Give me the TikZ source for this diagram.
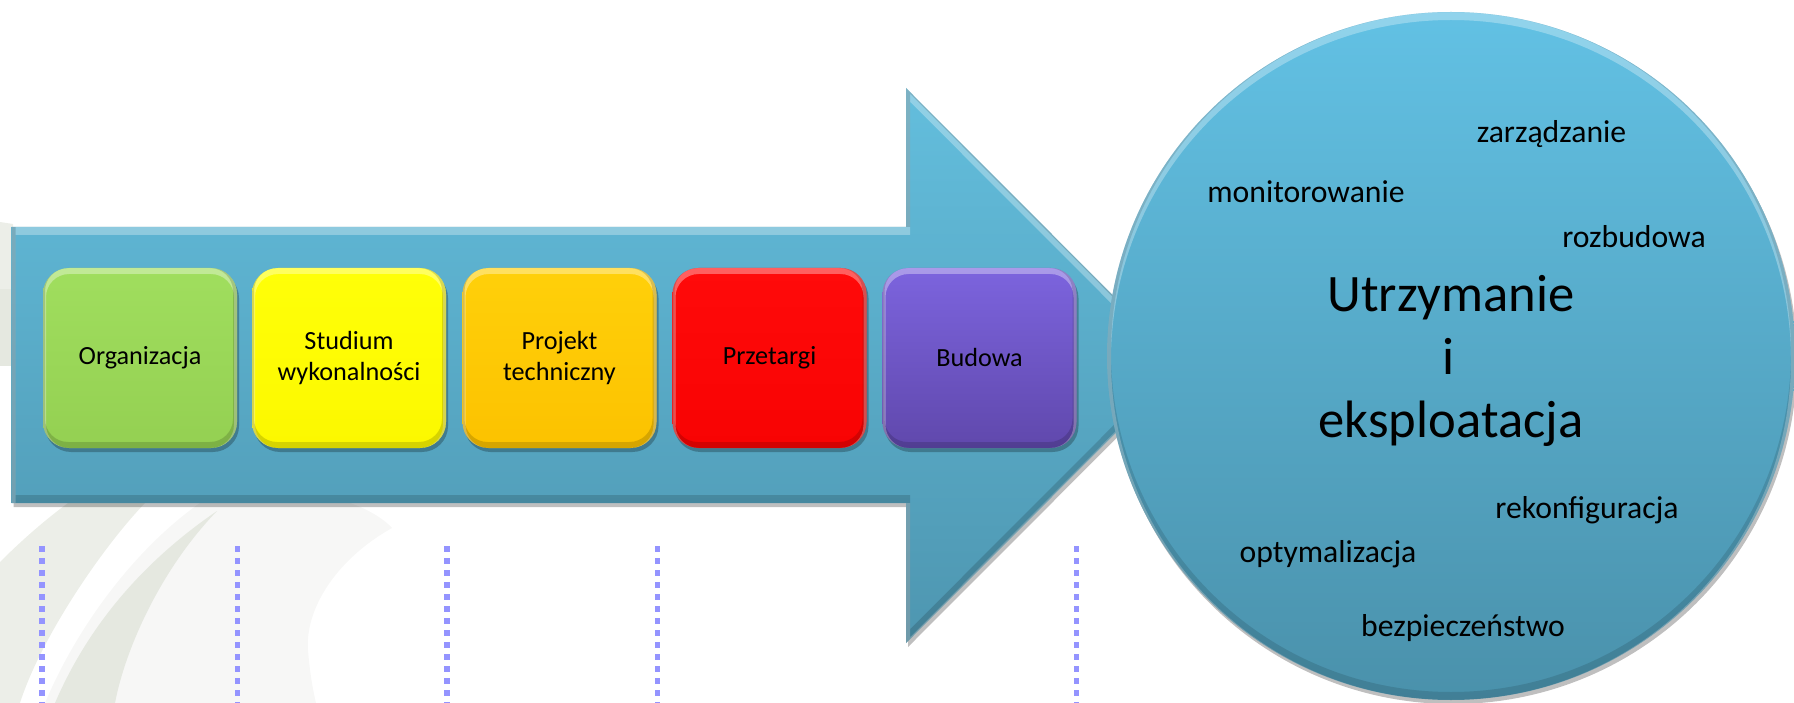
\documentclass[tikz,border=0pt]{standalone}
\usepackage{fontspec}
\setmainfont{Carlito}
\usetikzlibrary{shadows}
\definecolor{arrtop}{RGB}{99,190,221}
\definecolor{arrbot}{RGB}{78,150,176}
\definecolor{circtop}{RGB}{98,193,228}
\definecolor{circbot}{RGB}{74,145,171}
\definecolor{grntop}{RGB}{160,222,94}
\definecolor{grnbot}{RGB}{148,208,82}
\definecolor{yeltop}{RGB}{255,255,8}
\definecolor{yelbot}{RGB}{252,248,0}
\definecolor{orgtop}{RGB}{255,208,10}
\definecolor{orgbot}{RGB}{252,194,0}
\definecolor{redtop}{RGB}{255,10,10}
\definecolor{redbot}{RGB}{248,3,3}
\definecolor{purtop}{RGB}{124,100,222}
\definecolor{purbot}{RGB}{96,72,172}
\definecolor{dotcol}{RGB}{148,148,255}
\definecolor{swA}{RGB}{236,238,232}
\definecolor{swB}{RGB}{229,232,224}
\definecolor{swC}{RGB}{247,247,246}
\newcommand\phasefont{\fontsize{26.2pt}{31.5pt}\selectfont}
\newcommand\smallfont{\fontsize{31.7pt}{38pt}\selectfont}
\newcommand\bigfont{\fontsize{52.6pt}{63pt}\selectfont}
\def\arrowpath{(11.5,227) -- (906,227) -- (906,88) -- (1183,365.5) -- (906,643) -- (906,503) -- (11.5,503) -- cycle}
\tikzset{
  softshadow/.style={drop shadow={shadow xshift=2pt, shadow yshift=-4pt, opacity=0.25, fill=black}},
  phase/.style 2 args={rounded corners=26pt, minimum width=194pt, minimum height=180pt,
    inner sep=0pt, align=center, font=\phasefont, top color=#1, bottom color=#2, softshadow,
    path picture={
      \draw[white, opacity=0.35, line width=6pt, rounded corners=26pt]
        ([yshift=-3pt]path picture bounding box.north west) rectangle ([yshift=-3pt]path picture bounding box.south east);
      \draw[black, opacity=0.15, line width=6pt, rounded corners=26pt]
        ([yshift=3pt,xshift=-1pt]path picture bounding box.north west) rectangle ([yshift=3pt,xshift=-1pt]path picture bounding box.south east);
    }},
  lbl/.style={font=\smallfont, anchor=base, inner sep=0pt},
  biglbl/.style={font=\bigfont, anchor=base, inner sep=0pt},
  dotline/.style={dotcol, line width=5.5pt, dash pattern=on 5.5pt off 6.5pt},
}
\begin{document}
\begin{tikzpicture}[x=1pt,y=-1pt]
\useasboundingbox (0,0) rectangle (1794,703);
% background swooshes
\fill[swA] (0,222) -- (13,224) -- (13,290) -- (0,290) -- cycle;
\fill[swB] (0,289) -- (13,289) -- (13,366) -- (0,366) -- cycle;
\fill[swA] (0,562) .. controls (22,540) and (45,520) .. (68,503) -- (145,503)
  .. controls (100,550) and (40,640) .. (20,703) -- (0,703) -- cycle;
\fill[swC] (45,703) .. controls (80,620) and (140,545) .. (200,503) -- (350,503)
  .. controls (370,510) and (385,520) .. (392,528)
  .. controls (335,560) and (305,610) .. (308,650)
  .. controls (310,675) and (313,690) .. (316,703) -- cycle;
\fill[swB] (217,511) .. controls (160,550) and (95,610) .. (55,703) -- (115,703)
  .. controls (125,650) and (160,570) .. (217,511) -- cycle;
% dotted guide lines
\foreach \i/\x in {1/42,2/237.5,3/447,4/657.5,5/1076.5}{
  \coordinate (dt\i) at (\x,546);
  \coordinate (db\i) at (\x,706);
  \draw[dotline] (dt\i) -- (db\i);
}
% big arrow
\path[top color=arrtop, bottom color=arrbot, softshadow] \arrowpath;
\begin{scope}
  \clip \arrowpath;
  \draw[white, opacity=0.3, line width=8pt, yshift=-4pt] \arrowpath;
  \draw[black, opacity=0.15, line width=8pt, yshift=4pt] \arrowpath;
\end{scope}
% phases
\node[phase={grntop}{grnbot}] (org) at (140,358) {Organizacja};
\node[phase={yeltop}{yelbot}] (stu) at (349,358) {Studium\\wykonalności};
\node[phase={orgtop}{orgbot}] (pro) at (559.5,358) {Projekt\\techniczny};
\node[phase={redtop}{redbot}] (prz) at (769.5,358) {Przetargi};
\node[phase={purtop}{purbot}] (bud) at (979.5,358) {Budowa};
% circle
\node[circle, minimum size=688pt, inner sep=0pt, top color=circtop, bottom color=circbot, softshadow,
  path picture={
    \draw[white, opacity=0.3, line width=8pt] ([yshift=-4pt]path picture bounding box.center) circle (344pt);
    \draw[black, opacity=0.12, line width=8pt] ([yshift=4pt]path picture bounding box.center) circle (344pt);
  }] (circ) at (1451,356) {};
\node[biglbl] (u1) at (1451,311.5) {Utrzymanie};
\node[biglbl] (u2) at (1449,374.5) {i};
\node[biglbl] (u3) at (1451,437) {eksploatacja};
\node[lbl] (t1) at (1551.5,143) {zarządzanie};
\node[lbl] (t2) at (1306,203) {monitorowanie};
\node[lbl] (t3) at (1634,247.5) {rozbudowa};
\node[lbl] (t4) at (1587,518) {rekonfiguracja};
\node[lbl] (t5) at (1328,562.5) {optymalizacja};
\node[lbl] (t6) at (1463,636.5) {bezpieczeństwo};
\end{tikzpicture}
\end{document}
